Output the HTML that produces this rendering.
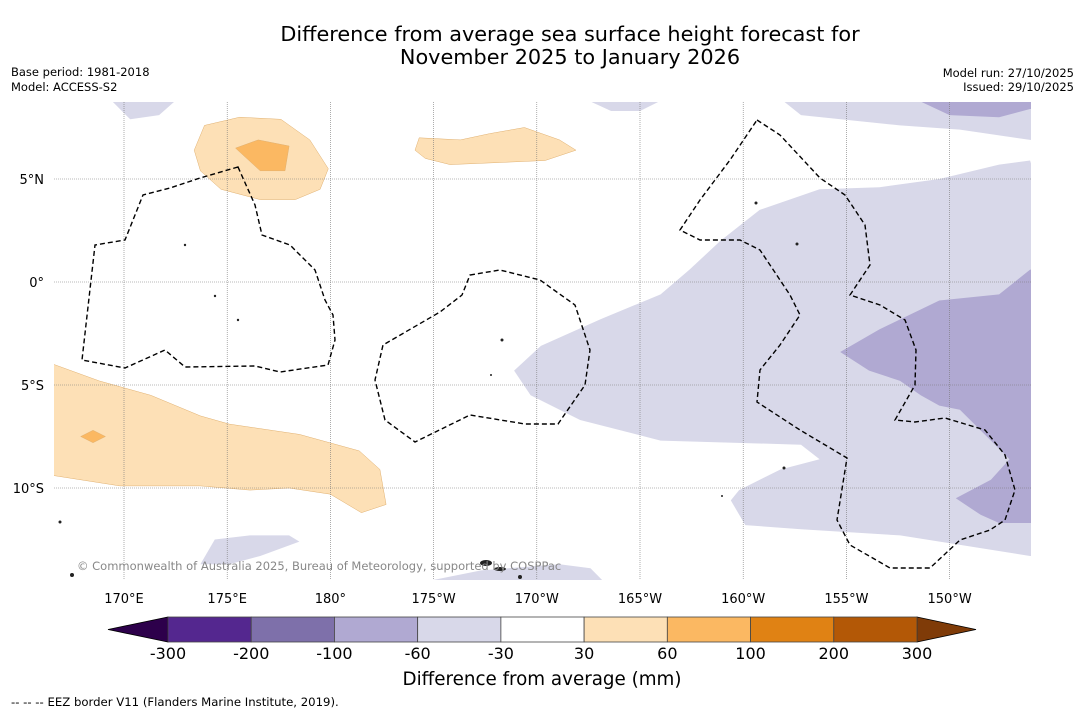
<!DOCTYPE html>
<html><head><meta charset="utf-8"><style>
body{margin:0;background:#fff;}
svg{display:block;font-family:"DejaVu Sans","Liberation Sans",sans-serif;}
</style></head><body>
<svg id="chart" width="1085" height="713" viewBox="0 0 1085 713">
<rect width="1085" height="713" fill="#fff"/>
<text x="570" y="41" font-size="20.8" text-anchor="middle">Difference from average sea surface height forecast for</text>
<text x="570" y="64" font-size="20.8" text-anchor="middle">November 2025 to January 2026</text>
<text x="11" y="76" font-size="11.5">Base period: 1981-2018</text>
<text x="11" y="91" font-size="11.5">Model: ACCESS-S2</text>
<text x="1074" y="77" font-size="11.5" text-anchor="end">Model run: 27/10/2025</text>
<text x="1074" y="91" font-size="11.5" text-anchor="end">Issued: 29/10/2025</text>
<defs><clipPath id="mapclip"><rect x="54" y="102" width="977" height="478"/></clipPath></defs>
<g id="map" clip-path="url(#mapclip)"></g>
<g id="grid"></g>
<g id="eez" clip-path="url(#mapclip)">
<path d="M238,167 L255,205 L262,235 L290,245 L315,270 L325,300 L333,315 L335,340 L328,365 L280,372 L255,366 L185,367 L165,350 L125,368 L82,360 L95,245 L125,240 L143,195 L170,188 L200,178 Z" fill="none" stroke="#000" stroke-width="1.4" stroke-dasharray="5,3"/>
<path d="M470,275 L500,270 L540,280 L575,305 L590,350 L585,385 L558,424 L525,424 L470,415 L415,442 L385,420 L375,380 L383,345 L440,312 L462,295 Z" fill="none" stroke="#000" stroke-width="1.4" stroke-dasharray="5,3"/>
<path d="M757,120 L780,135 L820,178 L845,195 L865,225 L870,265 L850,295 L880,305 L905,320 L916,350 L915,385 L895,420 L915,422 L945,418 L985,430 L1005,455 L1015,490 L1005,520 L990,530 L960,540 L930,568 L890,568 L850,545 L837,520 L847,458 L800,430 L757,402 L760,370 L780,345 L800,315 L790,295 L760,250 L740,240 L700,240 L680,230 L700,200 L730,160 Z" fill="none" stroke="#000" stroke-width="1.4" stroke-dasharray="5,3"/>
<g fill="#222"><circle cx="185" cy="245" r="1.2"/><circle cx="215" cy="296" r="1.2"/><circle cx="238" cy="320" r="1.2"/><circle cx="502" cy="340" r="1.5"/><circle cx="491" cy="375" r="1"/><circle cx="784" cy="468" r="1.5"/><circle cx="797" cy="244" r="1.5"/><circle cx="756" cy="203" r="1.5"/><circle cx="722" cy="496" r="1"/><ellipse cx="486" cy="563" rx="6" ry="3"/><ellipse cx="500" cy="569" rx="6" ry="2"/><circle cx="60" cy="522" r="1.5"/><circle cx="72" cy="575" r="2"/><circle cx="520" cy="577" r="2"/></g>
</g>
<text x="77" y="570" font-size="11.5" fill="#888">© Commonwealth of Australia 2025, Bureau of Meteorology, supported by COSPPac</text>
<g id="cbar"></g>
<text x="542" y="685" font-size="18.3" text-anchor="middle">Difference from average (mm)</text>
<text x="11" y="706" font-size="11.7">--  --  -- EEZ border V11 (Flanders Marine Institute, 2019).</text>
</svg>
<script>
// axes
const lonTicks=[170,175,180,185,190,195,200,205,210];
const lonLabels=["170°E","175°E","180°","175°W","170°W","165°W","160°W","155°W","150°W"];
const latTicks=[5,0,-5,-10];
const latLabels=["5°N","0°","5°S","10°S"];
// colorbar
const levels=[-300,-200,-100,-60,-30,30,60,100,200,300];
const levelLabels=["-300","-200","-100","-60","-30","30","60","100","200","300"];
const binColors=["#54278f","#7e70aa","#b0a9d2","#d8d8e9","#ffffff","#fde0b6","#fbb862","#e08214","#b35806"];
const underColor="#2d004b", overColor="#7f3b08";
// contour regions: [binIndex, lon[], lat[]]
const regionBins=[3,3,3,3,2,2,3,3,5,5,6,5,6];
const regionLons=[
[213.9,212.4,209.5,206.6,203.7,200.8,198.9,197.4,196,193.1,190.2,188.9,189.7,192.1,196,202.8,203.7,201.8,199.8,199.4,200.1,202.8,207.6,213.9,220],
[201.8,202.8,207.6,210.5,213.9,220,220],
[192.3,193.6,195,196.2],
[169.3,170.3,171.7,172.6],
[208.3,210,212.4,213.9,220,220],
[213.9,212.4,209.5,206.6,204.7,206.1,207.6,208.6,209.5,210.5,212,212.9,212,210.3,211.5,212.4,213.9,220,220],
[173.7,174.4,176.1,178,178.5,176.6,175.1],
[184.3,187.3,191.1,192.6,193.3,193.3],
[160,166.6,168.8,171.3,173.7,175.1,178.5,181.4,182.4,182.7,181.5,180,178,176.1,173.7,169.8,166.6,160],
[173.9,175.6,177.6,179,179.9,179.5,178.3,176.6,174.7,173.7,173.4],
[175.4,176.5,178,177.8,176.6],
[184.3,186.3,187.7,189.4,191.1,191.9,190.4,188.2,185.8,184.6,184.1],
[167.9,168.5,169.1,168.5]];
const regionLats=[
[5.9,5.7,5,4.6,4.5,3.5,2,0.6,-0.6,-1.8,-3.1,-4.3,-5.5,-6.7,-7.7,-7.9,-8.6,-9.1,-10.1,-10.6,-11.8,-12,-12.3,-13.3,-13.3],
[8.9,8.1,7.6,7.4,6.9,6.9,8.9],
[8.9,8.3,8.3,8.9],
[8.9,7.9,8.1,8.9],
[8.9,8.1,8,8.4,8.4,8.9],
[0.6,-0.6,-0.9,-2.3,-3.4,-4.3,-4.8,-5.5,-6,-6.2,-7.7,-8.6,-9.6,-10.5,-11.3,-11.7,-11.7,-11.7,0.6],
[-13.7,-12.5,-12.3,-12.3,-12.6,-13.3,-13.7],
[-14.6,-14,-13.7,-13.9,-14.6,-14.6],
[-4,-4,-4.8,-5.5,-6.5,-6.9,-7.4,-8.2,-9.1,-10.8,-11.2,-10.3,-10,-10.1,-9.9,-9.9,-9.4,-9.4],
[7.6,8,7.9,6.9,5.5,4.5,4,4,4.5,5.4,6.4],
[6.5,6.9,6.6,5.4,5.4],
[7,6.9,7.2,7.5,6.9,6.4,5.9,5.8,5.7,6,6.4],
[-7.5,-7.2,-7.5,-7.8]];

const NS="http://www.w3.org/2000/svg";
function xOf(lon){return 124+(lon-170)*20.64;}
function yOf(lat){return 282-lat*20.6;}
function mk(tag,attrs,parent){const e=document.createElementNS(NS,tag);for(const k in attrs)e.setAttribute(k,attrs[k]);parent.appendChild(e);return e;}

const map=document.getElementById('map');
regionLons.forEach((lons,i)=>{
  const pts=lons.map((lo,j)=>xOf(lo).toFixed(1)+','+yOf(regionLats[i][j]).toFixed(1)).join(' ');
  const p=mk('polygon',{points:pts,fill:binColors[regionBins[i]],stroke:regionBins[i]>=5?'#e0b070':'none','stroke-width':0.5},map);
  
  
});

const grid=document.getElementById('grid');
lonTicks.forEach((lo,i)=>{
  const x=xOf(lo);
  const l=mk('line',{x1:x,y1:102,x2:x,y2:580,stroke:'#777','stroke-width':0.6,'stroke-dasharray':'1,1'},grid);
  
  
  const t=mk('text',{x:x,y:603,'font-size':13,'text-anchor':'middle'},grid);
  t.textContent=lonLabels[i];
  
  
});
latTicks.forEach((la,i)=>{
  const y=yOf(la);
  const l=mk('line',{x1:54,y1:y,x2:1031,y2:y,stroke:'#777','stroke-width':0.6,'stroke-dasharray':'1,1'},grid);
  
  
  const t=mk('text',{x:44,y:y+5,'font-size':13,'text-anchor':'end'},grid);
  t.textContent=latLabels[i];
  
  
});

const cb=document.getElementById('cbar');
const cx0=168,cx1=917,cy0=617,cy1=642,nb=binColors.length,bw=(cx1-cx0)/nb;
function cbX(i){return cx0+i*bw;}
const u=mk('polygon',{points:`108,629.5 ${cx0},${cy0} ${cx0},${cy1}`,fill:underColor,stroke:'#000','stroke-width':0.8},cb);


const o=mk('polygon',{points:`${cx1},${cy0} 976,629.5 ${cx1},${cy1}`,fill:overColor,stroke:'#000','stroke-width':0.8},cb);


binColors.forEach((c,i)=>{
  const r=mk('rect',{x:cbX(i),y:cy0,width:bw,height:cy1-cy0,fill:c,stroke:'#444','stroke-width':0.8},cb);
  
  
});
levelLabels.forEach((s,i)=>{
  const t=mk('text',{x:cbX(i),y:659,'font-size':16,'text-anchor':'middle'},cb);
  t.textContent=s;
  
  
});
</script>
</body></html>
